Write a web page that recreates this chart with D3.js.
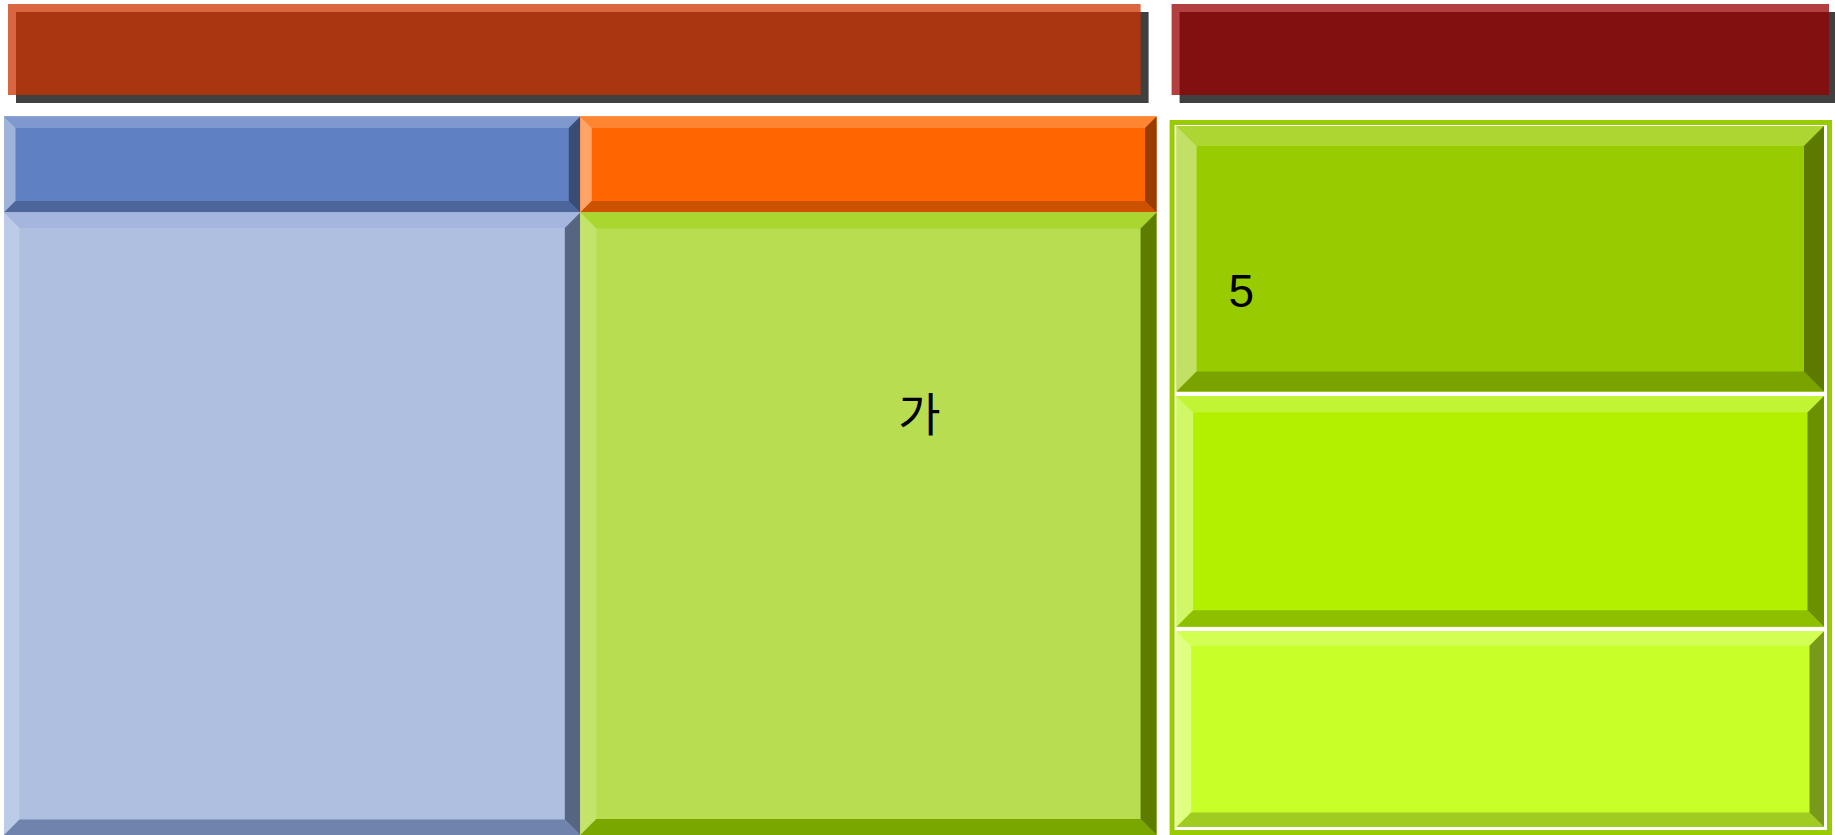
<!DOCTYPE html>
<html>
<head>
<meta charset="utf-8">
<script src="https://cdn.jsdelivr.net/npm/d3@7/dist/d3.min.js"></script>
<style>
  html, body { margin: 0; padding: 0; background: #ffffff; overflow: hidden; }
  svg { display: block; }
</style>
</head>
<body>
<svg id="chart" width="1835" height="835"></svg>
<script>
// ---------------- DATA ----------------
const topGroups = ["A", "B"];
const topValues = [174, 100];

const groupAChildren = ["A1", "A2"];
const groupAValues = [87, 87];

const groupBChildren = ["B1", "B2", "B3"];
const groupBValues = [38, 33, 28];

const labelTexts = ["가", "5"];
const labelCells = ["A2", "B1"];

// ---------------- STYLE ----------------
const W = 1835, H = 835;
const style = {
  topRange: [4, 1832], groupGap: 13,
  headerY: 4, headerH: 91, shadowDx: 8, shadowDy: 8, headerOpacity: 0.75,
  headerInsets: [[4, 16], [2, 3]],
  headerColors: ["#CC3300", "#990000"], shadowColor: "#404040",
  aHeaderTop: 116.4, aHeaderBottom: 212.4, aBottom: 835,
  bTop: 120, bBottom: 835, bBorder: 5, bWhite: 2,
  bCellInset: { l: 7, r: 8, t: 6, b: 8 }, bGap: 4.5,
  aHeaderBevel: [
    { base: "#5F80C2", top: "#7F99CE", left: "#9FB3DA", bottom: "#4C669B", right: "#394D74", b: 11.5 },
    { base: "#FF6600", top: "#FF8533", left: "#FFA366", bottom: "#CC5200", right: "#993D00", b: 11.5 }
  ],
  aLeafBevel: [
    { base: "#AFBFE0", top: "#A4B6DD", left: "#BCCBE8", bottom: "#6F83AD", right: "#566582", b: 15.5 },
    { base: "#B8DD50", top: "#A9D62F", left: "#C3E36B", bottom: "#7AA600", right: "#5E7C00", b: 16 }
  ],
  bCellBevel: [
    { base: "#99CC00", top: "#ADD633", left: "#C2E066", bottom: "#7AA300", right: "#5C7A00", b: 20 },
    { base: "#B2F000", top: "#C1F533", left: "#D1F766", bottom: "#8EC000", right: "#6B9000", b: 16.5 },
    { base: "#C8FF29", top: "#D3FF54", left: "#DEFF7F", bottom: "#A0CC21", right: "#789919", b: 14.5 }
  ],
  bFill: "#99CC00",
  labelOffsets: { A2: [318, 219], B1: [52, 181] },
  font: "Arial, 'Liberation Sans', 'Noto Sans CJK KR', sans-serif", fontSize: 46
};

const svg = d3.select("#chart");

// ---------------- SCALES ----------------
const totalTop = d3.sum(topValues);
const topSpan = (style.topRange[1] - style.topRange[0]) - style.groupGap * (topGroups.length - 1);
const xTopLen = d3.scaleLinear().domain([0, totalTop]).range([0, topSpan]);
const cumTop = d3.cumsum([0].concat(topValues));
const groupRects = topGroups.map((g, i) => {
  const x0 = style.topRange[0] + xTopLen(cumTop[i]) + i * style.groupGap;
  const x1 = x0 + xTopLen(topValues[i]);
  return { id: g, x0, x1 };
});

// ---------------- TOP HEADERS (with shadow) ----------------
const headers = svg.append("g").selectAll("g").data(groupRects).join("g");
headers.append("rect")
  .attr("x", (d, i) => d.x0 + style.headerInsets[i][0] + style.shadowDx)
  .attr("y", style.headerY + style.shadowDy)
  .attr("width", (d, i) => d.x1 - d.x0 - style.headerInsets[i][0] - style.headerInsets[i][1])
  .attr("height", style.headerH)
  .attr("fill", style.shadowColor);
headers.append("rect")
  .attr("x", (d, i) => d.x0 + style.headerInsets[i][0])
  .attr("y", style.headerY)
  .attr("width", (d, i) => d.x1 - d.x0 - style.headerInsets[i][0] - style.headerInsets[i][1])
  .attr("height", style.headerH)
  .attr("fill", (d, i) => style.headerColors[i])
  .attr("fill-opacity", style.headerOpacity);

// ---------------- BEVEL HELPER ----------------
function bevel(g, x0, y0, x1, y1, c) {
  const b = c.b;
  const p = pts => pts.map(q => q.join(",")).join(" ");
  g.append("rect").attr("x", x0).attr("y", y0).attr("width", x1 - x0).attr("height", y1 - y0).attr("fill", c.base);
  g.append("polygon").attr("points", p([[x0, y0], [x1, y0], [x1 - b, y0 + b], [x0 + b, y0 + b]])).attr("fill", c.top);
  g.append("polygon").attr("points", p([[x0, y0], [x0 + b, y0 + b], [x0 + b, y1 - b], [x0, y1]])).attr("fill", c.left);
  g.append("polygon").attr("points", p([[x0, y1], [x0 + b, y1 - b], [x1 - b, y1 - b], [x1, y1]])).attr("fill", c.bottom);
  g.append("polygon").attr("points", p([[x1, y0], [x1, y1], [x1 - b, y1 - b], [x1 - b, y0 + b]])).attr("fill", c.right);
}

const cellBoxes = {};

// ---------------- GROUP A ----------------
const gA = groupRects[0];
const xA = d3.scaleLinear().domain([0, d3.sum(groupAValues)]).range([gA.x0, gA.x1]);
const cumA = d3.cumsum([0].concat(groupAValues));
const layerA = svg.append("g");
groupAChildren.forEach((name, i) => {
  const x0 = xA(cumA[i]), x1 = xA(cumA[i + 1]);
  bevel(layerA.append("g"), x0, style.aHeaderTop, x1, style.aHeaderBottom, style.aHeaderBevel[i]);
  bevel(layerA.append("g"), x0, style.aHeaderBottom, x1, style.aBottom, style.aLeafBevel[i]);
  cellBoxes[name] = { x0, y0: style.aHeaderBottom, x1, y1: style.aBottom };
});

// ---------------- GROUP B ----------------
const gB = groupRects[1];
const layerB = svg.append("g");
layerB.append("rect")
  .attr("x", gB.x0).attr("y", style.bTop)
  .attr("width", gB.x1 - gB.x0).attr("height", style.bBottom - style.bTop)
  .attr("fill", style.bFill);
layerB.append("rect")
  .attr("x", gB.x0 + style.bBorder).attr("y", style.bTop + style.bBorder)
  .attr("width", gB.x1 - gB.x0 - 2 * style.bBorder)
  .attr("height", style.bBottom - style.bTop - 2 * style.bBorder)
  .attr("fill", "#ffffff");
const inTop = style.bTop + style.bCellInset.t, inBottom = style.bBottom - style.bCellInset.b;
const bSpan = (inBottom - inTop) - style.bGap * (groupBValues.length - 1);
const yBLen = d3.scaleLinear().domain([0, d3.sum(groupBValues)]).range([0, bSpan]);
const cumB = d3.cumsum([0].concat(groupBValues));
groupBChildren.forEach((name, i) => {
  const y0 = inTop + yBLen(cumB[i]) + i * style.bGap;
  const y1 = y0 + yBLen(groupBValues[i]);
  const x0 = gB.x0 + style.bCellInset.l, x1 = gB.x1 - style.bCellInset.r;
  bevel(layerB.append("g"), x0, y0, x1, y1, style.bCellBevel[i]);
  cellBoxes[name] = { x0, y0, x1, y1 };
});

// ---------------- LABELS ----------------
svg.append("g").selectAll("text").data(labelTexts).join("text")
  .attr("x", (d, i) => cellBoxes[labelCells[i]].x0 + style.labelOffsets[labelCells[i]][0])
  .attr("y", (d, i) => cellBoxes[labelCells[i]].y0 + style.labelOffsets[labelCells[i]][1])
  .attr("font-family", style.font)
  .attr("font-size", style.fontSize)
  .attr("fill", "#000000")
  .text(d => d);
</script>
</body>
</html>
